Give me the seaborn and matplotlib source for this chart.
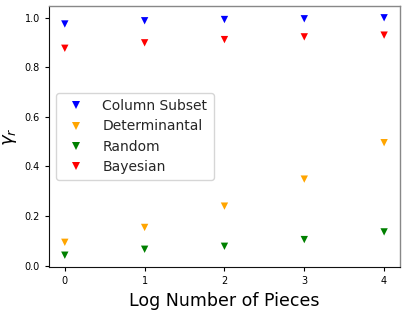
import numpy as np
import pandas as pd
import matplotlib
matplotlib.use("Agg")
import matplotlib.pyplot as plt
import seaborn as sns

log_pieces = [0, 1, 2, 3, 4]
column_subset = [0.975, 0.988, 0.993, 0.996, 1.0]
determinantal = [0.094, 0.154, 0.240, 0.349, 0.496]
random_sel = [0.042, 0.066, 0.078, 0.105, 0.136]
bayesian = [0.877, 0.899, 0.912, 0.923, 0.930]

methods = ["Column Subset", "Determinantal", "Random", "Bayesian"]
colors = ["blue", "orange", "green", "red"]

df = pd.DataFrame({
    "x": log_pieces * 4,
    "gamma": column_subset + determinantal + random_sel + bayesian,
    "method": np.repeat(methods, len(log_pieces)),
})

sns.set_style("ticks")
plt.rcParams["font.family"] = ["DejaVu Sans"]

fig = plt.figure(figsize=(4.07, 3.12), dpi=100)
ax = fig.add_axes([0.12, 0.144, 0.863, 0.837])

sns.scatterplot(data=df, x="x", y="gamma", hue="method", hue_order=methods,
                palette=dict(zip(methods, colors)), marker="v", s=28,
                linewidth=0, ax=ax)

ax.set_xticks(log_pieces)
ax.set_yticks([0.0, 0.2, 0.4, 0.6, 0.8, 1.0])
ax.tick_params(labelsize=7, length=3, width=0.8, colors="black")
ax.set_xlabel("Log Number of Pieces", fontsize=12.5, color="black")
ax.set_ylabel(r"$\gamma_r$", fontsize=13, color="black")
for side in ["left", "bottom"]:
    ax.spines[side].set_color("#111111")
for side in ["top", "right"]:
    ax.spines[side].set_visible(True)
    ax.spines[side].set_color("#888888")
    ax.spines[side].set_linewidth(1.0)

ax.legend(loc="center left", fontsize=10, scatterpoints=1, frameon=True,
          handletextpad=0.9, borderpad=0.45, labelspacing=0.45)

fig.savefig("out.png", dpi=100)
